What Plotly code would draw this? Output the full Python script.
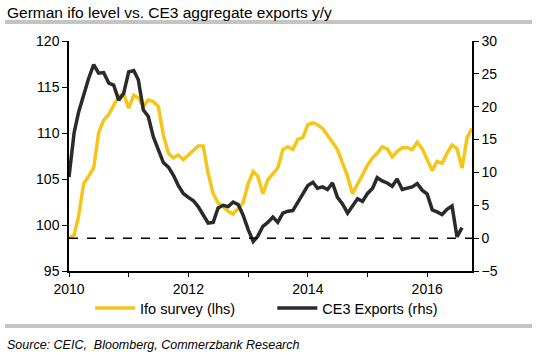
import plotly.graph_objects as go
import pandas as pd

# Monthly data Jan 2010 - Oct 2016
dates_ifo = pd.date_range("2010-01-01", periods=82, freq="MS")
ifo = [98.6, 98.9, 101.0, 104.5, 105.3, 106.2, 110.0, 111.4, 112.0, 113.0,
       114.0, 114.3, 112.7, 114.1, 113.8, 112.9, 113.6, 113.4, 112.9, 109.8,
       107.8, 107.3, 107.6, 107.1, 107.6, 108.2, 108.6, 108.6, 105.6, 103.4,
       102.4, 102.0, 101.5, 101.2, 101.8, 102.4, 104.5, 105.8, 105.3, 103.4,
       104.9, 105.6, 106.2, 108.2, 108.5, 108.2, 109.3, 109.5, 110.9, 111.1,
       110.9, 110.5, 109.8, 109.0, 108.2, 106.7, 105.3, 103.4, 104.5, 105.6,
       106.5, 107.3, 107.8, 108.5, 108.3, 107.4, 108.0, 108.4, 108.4, 108.2,
       109.0, 108.3, 107.2, 105.9, 106.9, 106.7, 107.8, 108.7, 108.3, 106.2,
       109.5, 110.5]

dates_ce3 = pd.date_range("2010-01-01", periods=80, freq="MS")
ce3 = [9.3, 16.0, 19.2, 21.8, 24.3, 26.4, 25.1, 25.2, 23.6, 23.3,
       21.0, 22.0, 25.3, 25.5, 24.1, 19.5, 18.5, 15.4, 13.5, 11.5,
       10.8, 9.6, 8.0, 6.8, 6.2, 5.7, 4.8, 3.5, 2.3, 2.4,
       4.6, 5.0, 4.8, 5.5, 5.1, 3.5, 1.3, -0.5, 0.3, 1.8,
       2.4, 3.2, 2.4, 3.8, 4.1, 4.2, 5.4, 6.6, 8.0, 8.5,
       7.6, 7.8, 7.4, 8.4, 6.2, 5.2, 3.8, 4.9, 6.0, 5.6,
       6.8, 7.6, 9.2, 8.7, 8.4, 7.9, 9.0, 7.4, 7.6, 7.8,
       8.3, 7.3, 6.7, 4.3, 4.0, 3.6, 4.4, 4.9, 0.2, 1.6]

year_ticks = ["2010", "2011", "2012", "2013", "2014", "2015", "2016"]
year_labels = ["2010", "", "2012", "", "2014", "", "2016"]

FONT = "Liberation Sans, Arial, sans-serif"
YELLOW = "#F5C518"
BLACK = "#2a2a2a"

fig = go.Figure()
fig.add_trace(go.Scatter(x=dates_ifo, y=ifo, mode="lines",
                         name="Ifo survey (lhs)" + "\u00a0" * 8,
                         line=dict(color=YELLOW, width=3.5), yaxis="y"))
fig.add_trace(go.Scatter(x=dates_ce3, y=ce3, mode="lines", name="CE3 Exports (rhs)",
                         line=dict(color=BLACK, width=3.5), yaxis="y2"))

fig.add_shape(type="line", xref="paper", yref="y2", x0=0, x1=1, y0=0, y1=0,
              line=dict(color="black", width=1.5, dash="dash"))

# gray separator bars
fig.add_shape(type="rect", xref="paper", yref="paper",
              x0=(5 - 69) / 403, x1=(532 - 69) / 403,
              y0=(271 - 24) / 230, y1=(271 - 20) / 230,
              fillcolor="#c4c4c4", line=dict(width=0))
fig.add_shape(type="rect", xref="paper", yref="paper",
              x0=(5 - 69) / 403, x1=(532 - 69) / 403,
              y0=(271 - 328) / 230, y1=(271 - 324) / 230,
              fillcolor="#c4c4c4", line=dict(width=0))

fig.add_annotation(text="German ifo level vs. CE3 aggregate exports y/y",
                   xref="paper", yref="paper", x=(5 - 69) / 403, y=(271 - 12) / 230,
                   xanchor="left", yanchor="middle", showarrow=False,
                   font=dict(family=FONT, size=15.5, color="black"))
fig.add_annotation(text="<i>Source: CEIC,  Bloomberg, Commerzbank Research</i>",
                   xref="paper", yref="paper", x=(5 - 69) / 403, y=(271 - 345) / 230,
                   xanchor="left", yanchor="middle", showarrow=False,
                   font=dict(family=FONT, size=12.5, color="black"))

fig.update_layout(
    width=537, height=357,
    margin=dict(l=69, r=65, t=41, b=86),
    paper_bgcolor="white", plot_bgcolor="white",
    font=dict(family=FONT, size=14, color="black"),
    showlegend=True,
    legend=dict(orientation="h", x=(90 - 69) / 403, xanchor="left", y=(271 - 308) / 230,
                yanchor="middle", font=dict(family=FONT, size=14.5, color="black"),
                bgcolor="rgba(0,0,0,0)", itemwidth=40),
    xaxis=dict(type="date", range=["2010-01-01", "2016-10-01"],
               tickvals=year_ticks, ticktext=year_labels,
               showline=True, linecolor="black", linewidth=1.5,
               ticks="outside", ticklen=4, tickwidth=1.2, tickcolor="black",
               showgrid=False, zeroline=False,
               tickfont=dict(family=FONT, size=14, color="black")),
    yaxis=dict(range=[95, 120], dtick=5, tick0=95,
               showline=True, linecolor="black", linewidth=1.5,
               ticks="outside", ticklen=5, tickwidth=1.2, tickcolor="black",
               showgrid=False, zeroline=False,
               tickfont=dict(family=FONT, size=14, color="black")),
    yaxis2=dict(range=[-5, 30], dtick=5, tick0=-5, overlaying="y", side="right",
                showline=True, linecolor="black", linewidth=1.5,
                ticks="outside", ticklen=5, tickwidth=1.2, tickcolor="black",
                showgrid=False, zeroline=False,
                tickfont=dict(family=FONT, size=14, color="black")),
)

fig.write_html("out.html", config={"displayModeBar": False},
               post_script="document.body.style.margin='0';document.body.style.overflow='hidden';")
